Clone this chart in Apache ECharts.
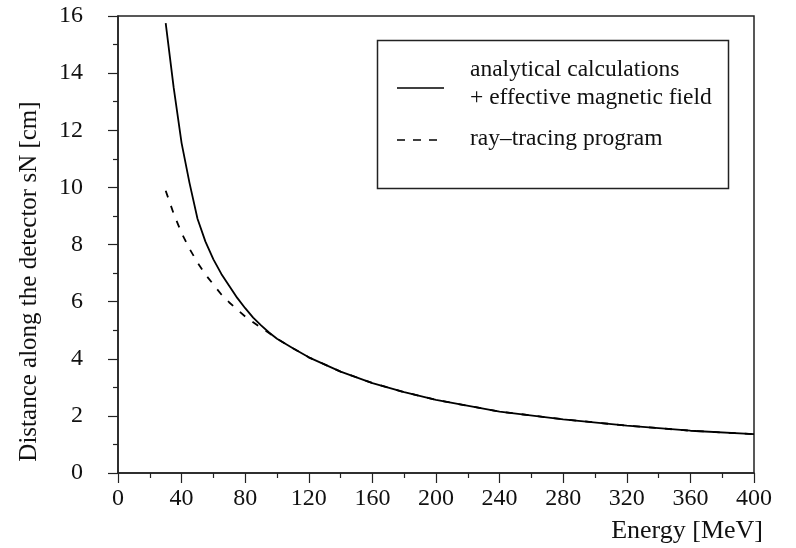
<!DOCTYPE html>
<html>
<head>
<meta charset="utf-8">
<script src="https://cdn.jsdelivr.net/npm/echarts@6/dist/echarts.min.js"></script>
<style>html,body{margin:0;padding:0;background:#fff}#c{width:796px;height:548px}</style>
</head>
<body>
<div id="c"></div>
<script>
// Data
var energy = [30, 35, 40, 45, 50, 55, 60, 65, 70, 75, 80, 85, 90, 95, 100, 110, 120, 140, 160, 180, 200, 240, 280, 320, 360, 400];
var analytical = [15.75, 13.5, 11.55, 10.15, 8.9, 8.1, 7.48, 6.97, 6.55, 6.13, 5.77, 5.44, 5.17, 4.92, 4.7, 4.37, 4.05, 3.55, 3.15, 2.83, 2.56, 2.15, 1.88, 1.66, 1.48, 1.36];
var rayTracing = [9.88, 9.08, 8.4, 7.85, 7.37, 6.95, 6.6, 6.25, 5.97, 5.72, 5.48, 5.28, 5.08, 4.9, 4.7, 4.37, 4.05, 3.55, 3.15, 2.83, 2.56, 2.15, 1.88, 1.66, 1.48, 1.36];
var seriesNames = ['analytical calculations\n+ effective magnetic field', 'ray\u2013tracing program'];
var xTitle = 'Energy [MeV]';
var yTitle = 'Distance along the detector sN [cm]';

function pairs(xs, ys) { return xs.map(function (x, i) { return [x, ys[i]]; }); }

var font = '"Liberation Serif", "DejaVu Serif", serif';
var axisColor = '#222';
var chart = echarts.init(document.getElementById('c'), null, { renderer: 'canvas' });
chart.setOption({
  animation: false,
  backgroundColor: '#fff',
  grid: { left: 118, right: 42, top: 16, bottom: 75, show: true, borderColor: axisColor, borderWidth: 1.5, backgroundColor: 'transparent' },
  xAxis: {
    type: 'value', min: 0, max: 400, interval: 40,
    name: xTitle, nameLocation: 'end', nameGap: 9,
    nameTextStyle: { fontFamily: font, fontSize: 26, color: '#111', align: 'right', verticalAlign: 'top', padding: [45, 0, 0, 0] },
    axisLine: { show: true, lineStyle: { color: axisColor, width: 1.5 } },
    axisTick: { show: true, inside: false, length: 10, lineStyle: { color: axisColor, width: 1.2 } },
    minorTick: { show: true, splitNumber: 2, length: 5, lineStyle: { color: axisColor, width: 1.2 } },
    splitLine: { show: false },
    axisLabel: { fontFamily: font, fontSize: 24, color: '#111', margin: 14 }
  },
  yAxis: {
    type: 'value', min: 0, max: 16, interval: 2,
    name: yTitle, nameLocation: 'middle', nameGap: 76,
    nameTextStyle: { fontFamily: font, fontSize: 25, color: '#111', padding: [0, 74, 0, 0] },
    axisLine: { show: true, lineStyle: { color: axisColor, width: 1.5 } },
    axisTick: { show: true, inside: false, length: 10, lineStyle: { color: axisColor, width: 1.2 } },
    minorTick: { show: true, splitNumber: 2, length: 5, lineStyle: { color: axisColor, width: 1.2 } },
    splitLine: { show: false },
    axisLabel: { fontFamily: font, fontSize: 24, color: '#111', margin: 35 }
  },
  series: [
    {
      name: seriesNames[0], type: 'line', data: pairs(energy, analytical),
      showSymbol: false, smooth: false, lineStyle: { color: '#000', width: 1.8, type: 'solid' }, z: 3
    },
    {
      name: seriesNames[1], type: 'line', data: pairs(energy, rayTracing),
      showSymbol: false, smooth: false, lineStyle: { color: '#000', width: 1.8, type: [7, 9] }, z: 2
    }
  ],
  graphic: [
    { type: 'rect', shape: { x: 377.5, y: 40.5, width: 351, height: 148 }, style: { fill: '#fff', stroke: axisColor, lineWidth: 1.5 }, z: 10 },
    { type: 'line', shape: { x1: 397, y1: 88, x2: 444, y2: 88 }, style: { stroke: '#000', lineWidth: 1.5 }, z: 11 },
    { type: 'text', left: 470, top: 56, style: { text: seriesNames[0], font: '23.5px ' + font, fill: '#111', lineHeight: 28 }, z: 11 },
    { type: 'line', shape: { x1: 397, y1: 140, x2: 438, y2: 140 }, style: { stroke: '#000', lineWidth: 1.5, lineDash: [8, 8] }, z: 11 },
    { type: 'text', left: 470, top: 127, style: { text: seriesNames[1], font: '23.5px ' + font, fill: '#111' }, z: 11 }
  ]
});
</script>
</body>
</html>
